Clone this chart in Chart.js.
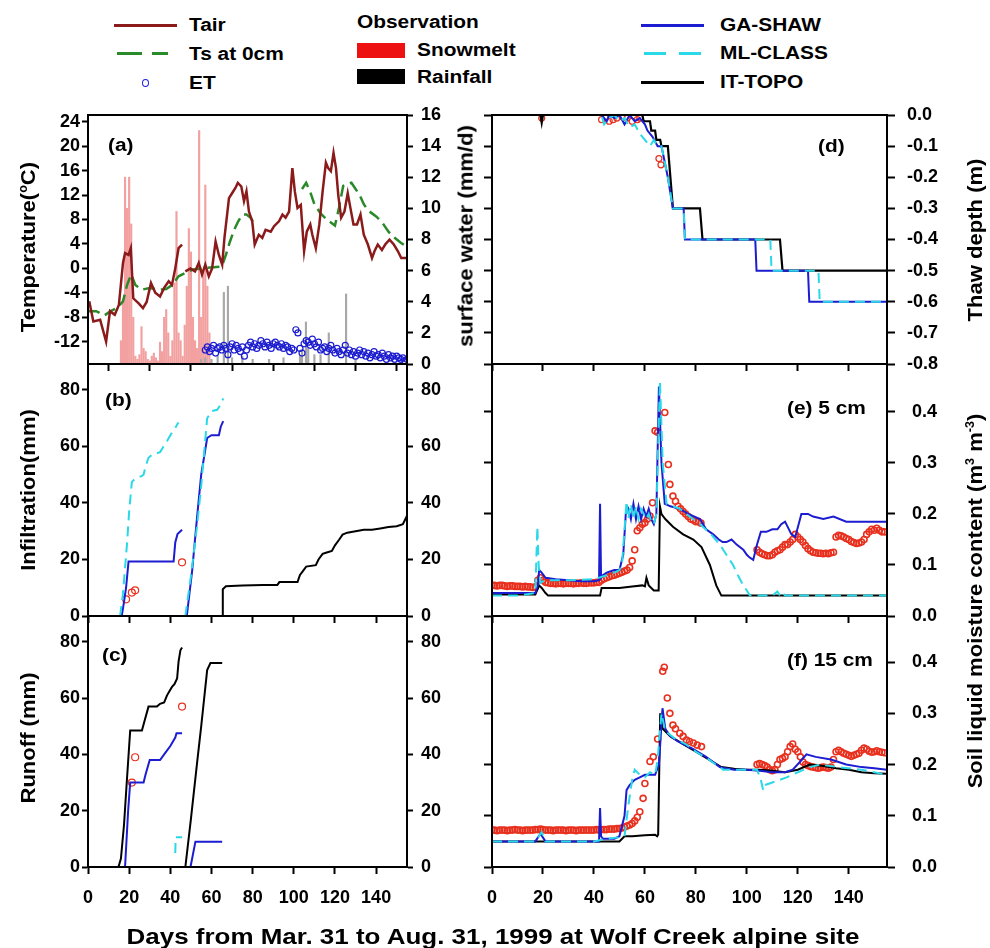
<!DOCTYPE html>
<html>
<head>
<meta charset="utf-8">
<script src="https://cdn.jsdelivr.net/npm/chart.js@4.4.0/dist/chart.umd.min.js"></script>
<style>
body { margin: 0; background: #fff; }
#wrap { position: relative; width: 990px; height: 948px; overflow: hidden; background: #fff;
  font-family: "Liberation Sans", Arial, sans-serif; font-weight: bold; color: #000; }
.pn { position: absolute; }
.t { position: absolute; white-space: nowrap; font-size: 18px; line-height: 1; transform-origin: left center; transform: translateY(-50%) scaleX(1.16); }
.rot { position: absolute; white-space: nowrap; font-size: 21px; line-height: 1; transform: translate(-50%, -50%) rotate(-90deg) scaleX(1.05); }
.sw { position: absolute; }
sup { font-size: 12px; }
</style>
</head>
<body>
<div id="wrap">
  <!-- legend -->
  <div class="sw" style="left:114px;top:24px;width:63px;height:3px;background:#8b1a1a"></div>
  <div class="t" style="left:189px;top:25px">Tair</div>
  <div class="sw" style="left:117px;top:52px;width:25px;height:3px;background:#2a8a2a"></div>
  <div class="sw" style="left:152px;top:52px;width:16px;height:3px;background:#2a8a2a"></div>
  <div class="t" style="left:189px;top:54px">Ts at 0cm</div>
  <div class="sw" style="left:142px;top:79px;width:5px;height:6px;border:1px solid #2020e0;border-radius:50%"></div>
  <div class="t" style="left:189px;top:83px">ET</div>

  <div class="t" style="left:357px;top:22px">Observation</div>
  <div class="sw" style="left:357px;top:43px;width:48px;height:15px;background:#ee1111"></div>
  <div class="t" style="left:417px;top:50px">Snowmelt</div>
  <div class="sw" style="left:357px;top:69px;width:48px;height:15px;background:#000"></div>
  <div class="t" style="left:417px;top:77px">Rainfall</div>

  <div class="sw" style="left:641px;top:24px;width:63px;height:3px;background:#1c1cd0"></div>
  <div class="t" style="left:720px;top:25px">GA-SHAW</div>
  <div class="sw" style="left:644px;top:52px;width:22px;height:3px;background:#2ad8e8"></div>
  <div class="sw" style="left:679px;top:52px;width:22px;height:3px;background:#2ad8e8"></div>
  <div class="t" style="left:720px;top:53px">ML-CLASS</div>
  <div class="sw" style="left:641px;top:81px;width:63px;height:3px;background:#000"></div>
  <div class="t" style="left:720px;top:82px">IT-TOPO</div>

  <!-- panels -->
  <div class="pn" style="left:0;top:105px"><canvas id="ca" width="480" height="270"></canvas></div>
  <div class="pn" style="left:480px;top:105px"><canvas id="cd" width="510" height="270"></canvas></div>
  <div class="pn" style="left:0;top:354px"><canvas id="cb" width="480" height="272"></canvas></div>
  <div class="pn" style="left:480px;top:354px"><canvas id="ce" width="510" height="272"></canvas></div>
  <div class="pn" style="left:0;top:606px"><canvas id="cc" width="480" height="342"></canvas></div>
  <div class="pn" style="left:480px;top:606px"><canvas id="cf" width="510" height="342"></canvas></div>

  <!-- panel labels -->
  <div class="t" style="left:108px;top:145px">(a)</div>
  <div class="t" style="left:105px;top:400px">(b)</div>
  <div class="t" style="left:102px;top:655px">(c)</div>
  <div class="t" style="left:818px;top:146px">(d)</div>
  <div class="t" style="left:787px;top:408px">(e) 5 cm</div>
  <div class="t" style="left:787px;top:660px">(f) 15 cm</div>

  <!-- axis titles -->
  <div class="rot" style="left:27px;top:247px">Temperature(<sup>o</sup>C)</div>
  <div class="rot" style="left:27px;top:490px">Infiltration(mm)</div>
  <div class="rot" style="left:27px;top:738px">Runoff (mm)</div>
  <div class="rot" style="left:465px;top:236px">surface water (mm/d)</div>
  <div class="rot" style="left:974px;top:240px">Thaw depth (m)</div>
  <div class="rot" style="left:974px;top:601px">Soil liquid moisture content (m<sup>3</sup> m<sup>-3</sup>)</div>
  <div class="t" style="left:493px;top:937px;font-size:22px;transform-origin:center;transform:translate(-50%,-50%) scaleX(1.18)">Days from Mar. 31 to Aug. 31, 1999 at Wolf Creek alpine site</div>
</div>

<script>
// ---------- data ----------
const xTicks = [0, 20, 40, 60, 80, 100, 120, 140];

// (a) air / surface temperature, surface water, ET
const tairDay = [0.6,2.6,5.9,8.8,10.7,13,15,17,18,19.7,20.8,22,24.5,26.7,28.5,30.6,32.7,35,37,39.2,40.8,42.4,44,45.7,46.5,47.3,49.8,52,53.8,55.4,57,58.7,60.3,62,63.6,65.2,66.3,68.5,70,71.7,72.8,74.5,75.8,77,78.2,79.8,81,83,84.7,86.3,88.8,90.4,92.8,94.5,96,97.7,99.3,100.5,101.8,103.4,105,106.3,108,109,110.7,112.4,114,115.6,116.7,118,119.3,120.5,121.6,123,124.6,126.2,127.5,129,130.7,132.4,134,136,138,139.2,140.8,142.8,144.4,146.5,148.6,150.6,152.2,154.6];
const tairVal = [-5.4,-8.7,-8.4,-12,-7,-7.6,-6,0.9,2.5,2.2,3.3,-4.9,-5.7,-6.5,-5.5,-2.4,-4,-4.6,-3.2,-2.1,-2.7,0,3.3,3.9,null,-0.5,0,-0.5,0.9,-1,0.6,-1.3,0,4.4,2.2,0.6,5,11.5,12.3,13.2,14,13.4,11,12.6,9.3,7.7,3.9,5.5,5,6.3,6,6.9,7.7,8.8,8.3,9.3,16.4,12.6,9.9,10.4,2.8,6,7.2,5.5,3.3,7.2,12.6,17.3,16.4,15.9,18.9,16.4,12,8.3,9.3,12.3,9.9,7.2,7.2,8.8,5.5,3.9,1.7,2.8,3.9,3,3.9,4.7,3.9,2.8,1.7,1.7];
const tsDay = [0,4,8,11,14,17,19,21,23,26,30,34,38,41,44,47,51,56,61,65,67,69,71,73,75,77,79,81,92,104,106,108,110,113,116,118,120,122,124,126,128,130,132,134,136,138,140,143,146,149,152,155];
const tsVal = [-7,-7,-7.7,-7,-6.5,-5.4,-2.7,-1,-2.7,-3.5,-3.2,-3.5,-3.4,-2.7,-1.3,-0.8,-0.2,0,0.2,0.3,2.2,4.4,6.3,7.7,8.8,8.8,8.3,7.2,null,13,14,12.5,10.5,9,8,7.5,7,10,13.5,13.8,14,13,12,10.5,9.5,9,8.5,7.5,6,5,4.2,3.5];
const snowDay = [16,17,18,19,20,21,22,23,24,25,26,27,28,29,30,31,32,33,34,35,36,37,38,39,40,41,42,43,44,45,46,47,48,49,50,51,52,53,54,55,56,57,58,59];
const snowVal = [1.5,4,12,10,12,9,3,0.5,0.3,0.6,2.4,1,0.8,0.3,0.2,0.5,0.7,0.4,0.2,1.4,0.8,3,3.5,2,0.5,1.5,5.2,9.8,2,1.5,0.5,2.5,5,8.7,7.2,3,1.5,1,15,3,6,11.5,5,2];
const rainDay = [55,57,60,63,66,68,70,75,80,88,95,103,104,105.9,107,110,113,117,125.4,130];
const rainVal = [0.3,0.4,0.3,0.5,4.6,5,0.4,0.5,0.3,0.3,0.4,0.5,0.8,2.7,1.0,0.6,0.6,2.0,4.5,0.3];
const etDay = [57,58,59,60,61,62,63,64,65,66,67,68,69,70,71,72,73,74,75,76,77,78,79,80,81,82,83,84,85,86,87,88,89,90,91,92,93,94,95,96,97,98,99,100,101,102,103,104,105,106,107,108,109,110,111,112,113,114,115,116,117,118,119,120,121,122,123,124,125,126,127,128,129,130,131,132,133,134,135,136,137,138,139,140,141,142,143,144,145,146,147,148,149,150,151,152,153,154,155];
const etVal = [0.9,1.1,0.8,1.0,1.2,0.7,1.0,1.1,0.9,
  1.2,1.0,0.6,1.1,1.3,0.9,1.2,1.0,0.8,1.1,
  0.5,0.9,1.2,1.4,1.1,1.3,1.0,1.2,1.5,1.3,
  1.1,1.4,1.2,1.0,1.3,1.4,1.2,1.1,1.3,1.0,
  1.2,1.1,0.8,1.0,0.9,2.2,2.0,1.0,0.7,1.3,
  1.5,1.4,1.2,1.6,1.3,1.1,1.4,0.9,1.0,1.1,
  0.8,1.0,1.2,0.9,0.7,1.0,0.8,0.6,0.9,1.2,
  0.7,0.9,0.6,0.8,0.5,0.7,0.9,0.6,0.8,0.5,
  0.7,0.4,0.6,0.8,0.5,0.6,0.4,0.7,0.5,0.3,
  0.6,0.4,0.5,0.3,0.5,0.4,0.3,0.4,0.2,0.3];

// (b) infiltration
const mlB1Day = [15.6,17,18,19,20,21.3,22,24,26,27,28,29.4,31,33,35,36.7,38.5,40.8,42.4,43.5,44];
const mlB1Val = [0,8,17,26,37,47.4,48,49,49.5,50,53,56,57,57.5,58,60,62,65,66.5,68,68.5];
const mlB2Day = [47.3,50,53,55,57.9,60,62.8,64.5,65.7];
const mlB2Val = [0,14,32,46,70,72.5,73,75,77];
const gaB1Day = [16.4,17.5,18.5,19.7,25,35,41.6,42.4,43.5,45.7];
const gaB1Val = [0,5,10,19.3,19.3,19.3,19.3,26,29,30.5];
const gaB2Day = [48,50.6,53,55,57.9,60,63.6,64.5,65.7];
const gaB2Val = [0,16,35,50,63,64,64,67,69];
const itBDay = [65.2,65.5,67,75,85,92,93,101.8,103,104.5,106,110.7,112,114,116,118.5,120,122,123.7,126,130,134,138,142,146,150,153,154,155];
const itBVal = [0,9.5,10.5,10.8,11,11,12,12,14.5,16,17.5,18,20,22,22.5,23,25,27,28.8,29.5,30,30.5,30.5,31,31.5,31.8,32.5,34,35.5];
const obsBDay = [18.5,21.3,22.9,45.7];
const obsBVal = [5.9,8.3,9.1,19];

// (c) runoff
const itC1Day = [0,14.8,16,17.5,19,20.5,26.2,27.5,29.4,33.5,35,37,38.4,40.8,42,43.3,44,44.9,45.7];
const itC1Val = [0,0,3,15,32,48.5,48.5,52,57,57,58,58.5,61,64,65,67,73,77,78];
const itC2Day = [47.3,50,53,55,57.9,59.5,65.2];
const itC2Val = [0,17,37,50,70,72.5,72.5];
const gaC1Day = [16.5,18,19.5,20.5,27,28,30,35,37,40,42.4,43,45.7];
const gaC1Val = [0,0,20,30,30,33,38,38,40,43,46,47.5,47.5];
const gaC2Day = [49.8,52.2,65.2];
const gaC2Val = [0,9,9];
const mlC1Day = [16,27];
const mlC1Val = [0,0];
const mlC2Day = [42.4,42.6,45.7];
const mlC2Val = [5,10.6,10.6];
const mlC3Day = [49,65];
const mlC3Val = [0,0];
const obsCDay = [21.3,22.9,45.7];
const obsCVal = [30,39,57];

// (d) thaw depth
const itDDay = [0,19,19.5,20,59,59.5,62,62.5,64,64.5,66,66.5,69,71,81.6,82.6,113,114,155];
const itDVal = [0,0,-0.025,0,0,-0.02,-0.02,-0.05,-0.05,-0.08,-0.08,-0.1,-0.1,-0.3,-0.3,-0.4,-0.4,-0.5,-0.5];
const gaDDay = [0,43,45,46,48,50,52,54,56,58,60,61,63,65,66.5,69,71,75.2,75.7,103.3,103.8,124,124.5,155];
const gaDVal = [0,0,-0.02,0,-0.01,0,-0.03,0,-0.02,-0.01,-0.03,-0.05,-0.07,-0.1,-0.1,-0.2,-0.3,-0.3,-0.4,-0.4,-0.5,-0.5,-0.6,-0.6];
const mlDDay = [0,43,44,46,48,50,52,54,56,58,60,62,63.5,65,66.5,69,71,75.2,75.7,109.2,109.7,128.1,128.6,155];
const mlDVal = [0,0,-0.03,-0.01,0,-0.02,-0.01,-0.04,-0.03,-0.06,-0.08,-0.1,-0.08,-0.1,-0.1,-0.2,-0.3,-0.3,-0.4,-0.4,-0.5,-0.5,-0.6,-0.6];
const obsDDay = [19.5,43,44.5,46,47.5,49,51,53,55,57,58,65.5,66.3];
const obsDVal = [-0.01,-0.015,-0.01,-0.02,-0.015,-0.01,-0.005,-0.01,-0.02,-0.015,-0.01,-0.14,-0.16];

// (e) 5 cm soil moisture
const gaEDay = [0,10,17,18,18.5,19.5,21,25,30,35,40,42,42.4,42.8,43.5,45,48,50,51.5,52.5,53.5,54.5,55.5,56.5,57.5,58.5,59.5,60.5,61.5,62.5,63.5,64.5,65.5,66.5,67.8,70,73.7,77,81.6,84,86.8,89,90.5,92,94,96,98.6,100,101,102.5,104,105.5,107.7,110,112,113.5,115,117.5,119,121.4,124,126,130,134,139,145,150,155];
const gaEVal = [0.045,0.045,0.045,0.06,0.09,0.085,0.075,0.072,0.07,0.068,0.068,0.07,0.22,0.075,0.08,0.085,0.09,0.09,0.12,0.2,0.21,0.19,0.22,0.19,0.215,0.19,0.21,0.195,0.21,0.19,0.18,0.2,0.45,0.3,0.22,0.215,0.21,0.2,0.19,0.17,0.16,0.15,0.145,0.145,0.15,0.14,0.13,0.12,0.115,0.11,0.14,0.165,0.165,0.17,0.17,0.18,0.185,0.16,0.155,0.2,0.2,0.195,0.19,0.195,0.185,0.185,0.185,0.185];
const mlEDay = [0,10,17,17.8,18.3,19,20,22,30,40,45,48,50,51,52.8,53.5,54.5,55.5,56.5,57.5,58.5,59.5,60.5,61.5,62.5,63.5,64.5,65.9,67,68.5,73.7,76.3,81.6,86,89.4,92,94.6,96.5,98.6,100,101.2,110,112,113,114,115,155];
const mlEVal = [0.04,0.04,0.045,0.175,0.1,0.065,0.068,0.07,0.07,0.072,0.08,0.085,0.09,0.1,0.225,0.19,0.22,0.19,0.215,0.19,0.21,0.2,0.19,0.2,0.185,0.18,0.2,0.46,0.3,0.22,0.21,0.2,0.18,0.16,0.14,0.12,0.1,0.08,0.06,0.05,0.04,0.04,0.048,0.04,0.046,0.04,0.04];
const itEDay = [0,17,18.5,19.5,21,22,41,42.4,43,50,55,59,60,60.6,61.5,63.5,64.5,65.4,65.9,66.5,68,71,75,79,82.2,85.5,88,90,155];
const itEVal = [0.042,0.042,0.06,0.055,0.045,0.04,0.04,0.04,0.055,0.055,0.058,0.06,0.058,0.075,0.06,0.05,0.05,0.05,0.215,0.2,0.19,0.175,0.16,0.15,0.135,0.1,0.06,0.04,0.04];
const obsEDay = [0,1,2,3,4,5,6,7,8,9,10,11,12,13,14,15,16,17,18,19,20,21,22,23,24,25,26,27,28,29,30,31,32,33,34,35,36,37,38,39,40,41,42,43,44,45,46,47,48,49,50,51,52,53,54,55,56,57,58,59,60,61,62,63,64,65,67.8,69.2,69.8,71,72,73,74,75,76,77,78,79,80,81,82,
  104,105,106,107,108,109,110,111,112,113,114,115,116,117,118,119,120,121,122,123,124,125,126,127,128,129,130,131,132,133,134,135,136,137,138,139,140,141,142,143,144,145,146,147,148,149,150,151,152,153,154];
const obsEVal = [0.06,0.06,0.059,0.06,0.06,0.059,0.058,0.059,0.059,0.058,0.058,0.058,0.057,0.058,0.057,0.057,0.056,0.057,0.07,0.075,0.07,0.066,0.065,0.064,0.064,0.063,0.064,0.064,0.063,0.064,0.064,0.064,0.063,0.064,0.064,0.065,0.064,0.064,0.065,0.065,0.065,0.066,0.066,0.07,0.073,0.075,0.077,0.079,0.08,0.082,0.084,0.086,0.088,0.09,0.095,0.108,0.13,0.167,0.173,0.18,0.183,0.19,0.196,0.222,0.363,0.36,0.399,0.297,0.258,0.235,0.225,0.215,0.21,0.205,0.2,0.195,0.19,0.188,0.185,0.185,0.182,
  0.13,0.125,0.122,0.12,0.118,0.118,0.12,0.125,0.128,0.13,0.135,0.14,0.14,0.145,0.15,0.16,0.155,0.15,0.145,0.138,0.132,0.128,0.125,0.124,0.123,0.123,0.122,0.123,0.122,0.124,0.125,0.155,0.158,0.157,0.155,0.152,0.15,0.146,0.144,0.142,0.143,0.145,0.15,0.16,0.165,0.17,0.168,0.172,0.168,0.165,0.165];

// (f) 15 cm soil moisture
const gaFDay = [0,17,19,21,42,42.4,42.8,43.5,48,50,52,52.8,54,56,58,60,62,64,65.5,66.9,68,70,73,79,84,89.4,95,100,105,110,115,118,120.8,123.4,127,133,139,145,150,155];
const gaFVal = [0.05,0.05,0.065,0.05,0.05,0.115,0.06,0.055,0.055,0.06,0.1,0.15,0.16,0.17,0.175,0.18,0.18,0.18,0.2,0.31,0.27,0.255,0.245,0.23,0.215,0.195,0.19,0.19,0.188,0.185,0.185,0.19,0.205,0.22,0.215,0.21,0.2,0.195,0.193,0.19];
const mlFDay = [0,17,19.5,21,40,45,50,52,53.5,55,56,58,60,62,64,65,66.5,68,72,76,80,85,90.7,95,102.5,104,105.5,106.4,107,110,115.6,120,124.7,128.6,136,145,155];
const mlFVal = [0.05,0.05,0.068,0.05,0.05,0.055,0.058,0.06,0.12,0.17,0.19,0.18,0.175,0.185,0.18,0.21,0.3,0.265,0.25,0.24,0.225,0.21,0.19,0.19,0.19,0.19,0.17,0.15,0.16,0.165,0.175,0.185,0.195,0.2,0.195,0.19,0.18];
const itFDay = [0,50,52,55,60,64,64.8,65.2,66,67,70,75,80,85,90,95,100,105,110,115,120,124.7,130,135,140,145,150,155];
const itFVal = [0.05,0.05,0.06,0.06,0.062,0.063,0.06,0.063,0.3,0.27,0.255,0.24,0.225,0.21,0.195,0.192,0.19,0.19,0.188,0.185,0.19,0.2,0.197,0.193,0.19,0.185,0.183,0.182];
const obsFDay = [0,1,2,3,4,5,6,7,8,9,10,11,12,13,14,15,16,17,18,19,20,21,22,23,24,25,26,27,28,29,30,31,32,33,34,35,36,37,38,39,40,41,42,43,44,45,46,47,48,49,50,51,52,53,54,55,56,57,58,59.3,60,62,63.3,65,67,67.6,68.8,69.8,71,72,73.7,75,76.3,77.5,79,80.5,82.2,
  104,105,106,107,108,109,110,111,112,113,114,115,116,117,118,119,120,121,122,123,124,125,126,127,128,129,130,131,132,133,134,135,136,137,138,139,140,141,142,143,144,145,146,147,148,149,150,151,152,153,154];
const obsFVal = [0.072,0.072,0.071,0.072,0.072,0.072,0.071,0.072,0.072,0.073,0.072,0.072,0.071,0.072,0.072,0.072,0.072,0.073,0.073,0.074,0.073,0.072,0.072,0.072,0.071,0.072,0.072,0.072,0.072,0.071,0.072,0.072,0.072,0.071,0.072,0.072,0.072,0.072,0.072,0.072,0.072,0.073,0.072,0.073,0.073,0.073,0.074,0.074,0.074,0.075,0.075,0.076,0.078,0.08,0.082,0.085,0.09,0.097,0.108,0.134,0.163,0.206,0.215,0.25,0.382,0.39,0.33,0.3,0.277,0.27,0.261,0.255,0.248,0.245,0.242,0.238,0.235,
  0.2,0.202,0.2,0.198,0.195,0.19,0.188,0.19,0.2,0.21,0.212,0.215,0.225,0.235,0.24,0.23,0.225,0.215,0.205,0.2,0.198,0.196,0.195,0.194,0.193,0.194,0.195,0.194,0.193,0.195,0.21,0.225,0.228,0.225,0.222,0.22,0.218,0.216,0.218,0.22,0.222,0.228,0.232,0.23,0.226,0.224,0.225,0.227,0.225,0.224,0.223];

// ---------- styles ----------
const MAROON = '#8b1a1a', GREEN = '#2a8a2a', BLUE = '#1c1cd0', CYAN = '#2ad8e8', RED = '#e8301e';
const tickFont = { family: '"Liberation Sans", Arial, sans-serif', size: 18, weight: 'bold' };

function pts(d, v) { return d.map((x, i) => ({ x: x, y: v[i] })); }
function fixed(vals) { return s => { s.ticks = vals.map(v => ({ value: v })); }; }

function xAxis(labels, h) {
  return {
    type: 'linear', min: 0, max: 155, offset: false,
    afterBuildTicks: fixed(xTicks),
    afterFit: s => { s.height = h; s.paddingLeft = 0; s.paddingRight = 0; },
    grid: { drawOnChartArea: false, tickLength: 7, tickWidth: 2, tickColor: '#000' },
    border: { width: 2, color: '#000' },
    ticks: { display: labels, font: tickFont, color: '#000', padding: 13, maxRotation: 0, autoSkip: false }
  };
}
function yAxis(pos, min, max, vals, w, o) {
  o = o || {};
  return {
    type: 'linear', position: pos, min: min, max: max,
    afterBuildTicks: fixed(vals),
    afterFit: s => { s.width = w; s.paddingTop = 0; s.paddingBottom = 0; },
    grid: { drawOnChartArea: false, tickLength: o.tl || 6, tickWidth: 2, tickColor: '#000' },
    border: { width: 2, color: '#000' },
    ticks: { display: o.labels !== false, font: tickFont, color: '#000', padding: o.pad || 2,
             autoSkip: false, callback: o.fmt || (v => v) }
  };
}
function line(d, v, color, w, dash, axis) {
  return { type: 'line', data: pts(d, v), borderColor: color, borderWidth: w, borderDash: dash || [],
           pointRadius: 0, fill: false, tension: 0, spanGaps: false, yAxisID: axis || 'y' };
}
function dots(d, v, color, r, axis, bw) {
  return { type: 'line', data: pts(d, v), showLine: false, pointRadius: r, pointBorderColor: color,
           pointBackgroundColor: 'rgba(0,0,0,0)', pointBorderWidth: bw || 1.2, yAxisID: axis || 'y' };
}
function bars(d, v, color, w) {
  return { type: 'bar', data: pts(d, v), backgroundColor: color, barThickness: w, grouped: false, yAxisID: 'y2' };
}

const frame = {
  id: 'frame',
  afterDatasetsDraw(c) {
    const a = c.chartArea, g = c.ctx;
    g.save(); g.strokeStyle = '#000'; g.lineWidth = 2;
    g.strokeRect(a.left, a.top, a.right - a.left, a.bottom - a.top);
    g.restore();
  }
};

function make(id, datasets, scales) {
  return new Chart(document.getElementById(id), {
    type: 'line',
    data: { datasets: datasets },
    options: {
      responsive: false, animation: false,
      layout: { padding: { top: 10, left: 0, right: 0, bottom: 0 } },
      plugins: { legend: { display: false }, tooltip: { enabled: false } },
      scales: scales
    },
    plugins: [frame]
  });
}

const mmTicks = [0, 20, 40, 60, 80];
const smTicks = [0, 0.1, 0.2, 0.3, 0.4];
const fmt1 = v => v.toFixed(1);

// (a)
make('ca', [
  line(tairDay, tairVal, MAROON, 2.5),
  line(tsDay, tsVal, GREEN, 2.5, [12, 6]),
  dots(etDay, etVal, BLUE, 3, 'y2'),
  bars(rainDay, rainVal, '#a8a8a8', 1.5),
  bars(snowDay, snowVal, '#f2a0a0', 1.5)
], {
  x: xAxis(false, 11),
  y: yAxis('left', -15.65, 25.1, [-12, -8, -4, 0, 4, 8, 12, 16, 20, 24], 88),
  y2: yAxis('right', 0, 16, [0, 2, 4, 6, 8, 10, 12, 14, 16], 73, { pad: 8 })
});

// (b)
make('cb', [
  line(mlB1Day, mlB1Val, CYAN, 2, [10, 6]),
  line(mlB2Day, mlB2Val, CYAN, 2, [10, 6]),
  line(gaB1Day, gaB1Val, BLUE, 2),
  line(gaB2Day, gaB2Val, BLUE, 2),
  line(itBDay, itBVal, '#000', 2),
  dots(obsBDay, obsBVal, RED, 3.5)
], {
  x: xAxis(false, 10),
  y: yAxis('left', 0, 89.2, mmTicks, 88),
  y2: yAxis('right', 0, 89.2, mmTicks, 73, { pad: 8 })
});

// (c)
make('cc', [
  line(mlC1Day, mlC1Val, CYAN, 2, [10, 6]),
  line(mlC2Day, mlC2Val, CYAN, 2, [10, 6]),
  line(mlC3Day, mlC3Val, CYAN, 2, [10, 6]),
  line(gaC1Day, gaC1Val, BLUE, 2),
  line(gaC2Day, gaC2Val, BLUE, 2),
  line(itC1Day, itC1Val, '#000', 2),
  line(itC2Day, itC2Val, '#000', 2),
  dots(obsCDay, obsCVal, RED, 3.5)
], {
  x: xAxis(true, 81),
  y: yAxis('left', 0, 89.2, mmTicks, 88),
  y2: yAxis('right', 0, 89.2, mmTicks, 73, { pad: 8 })
});

// (d)
const thawTicks = [0, -0.1, -0.2, -0.3, -0.4, -0.5, -0.6, -0.7, -0.8];
make('cd', [
  line(mlDDay, mlDVal, CYAN, 2, [10, 6], 'y2'),
  line(gaDDay, gaDVal, BLUE, 2, [], 'y2'),
  line(itDDay, itDVal, '#000', 2.2, [], 'y2'),
  dots(obsDDay, obsDVal, RED, 3, 'y2')
], {
  x: xAxis(false, 11),
  y: yAxis('left', -0.8, 0, thawTicks, 12, { labels: false, tl: 8 }),
  y2: yAxis('right', -0.8, 0, thawTicks, 103, { tl: 8, pad: 12, fmt: fmt1 })
});

// (e)
make('ce', [
  line(mlEDay, mlEVal, CYAN, 2, [10, 6], 'y2'),
  line(gaEDay, gaEVal, BLUE, 2, [], 'y2'),
  line(itEDay, itEVal, '#000', 2, [], 'y2'),
  dots(obsEDay, obsEVal, RED, 3, 'y2', 1.6)
], {
  x: xAxis(false, 10),
  y: yAxis('left', 0, 0.494, smTicks, 12, { labels: false, tl: 8 }),
  y2: yAxis('right', 0, 0.494, smTicks, 103, { tl: 8, pad: 17, fmt: fmt1 })
});

// (f)
make('cf', [
  line(mlFDay, mlFVal, CYAN, 2, [10, 6], 'y2'),
  line(gaFDay, gaFVal, BLUE, 2, [], 'y2'),
  line(itFDay, itFVal, '#000', 2, [], 'y2'),
  dots(obsFDay, obsFVal, RED, 3, 'y2', 1.6)
], {
  x: xAxis(true, 81),
  y: yAxis('left', 0, 0.49, smTicks, 12, { labels: false, tl: 8 }),
  y2: yAxis('right', 0, 0.49, smTicks, 103, { tl: 8, pad: 17, fmt: fmt1 })
});
</script>
</body>
</html>
